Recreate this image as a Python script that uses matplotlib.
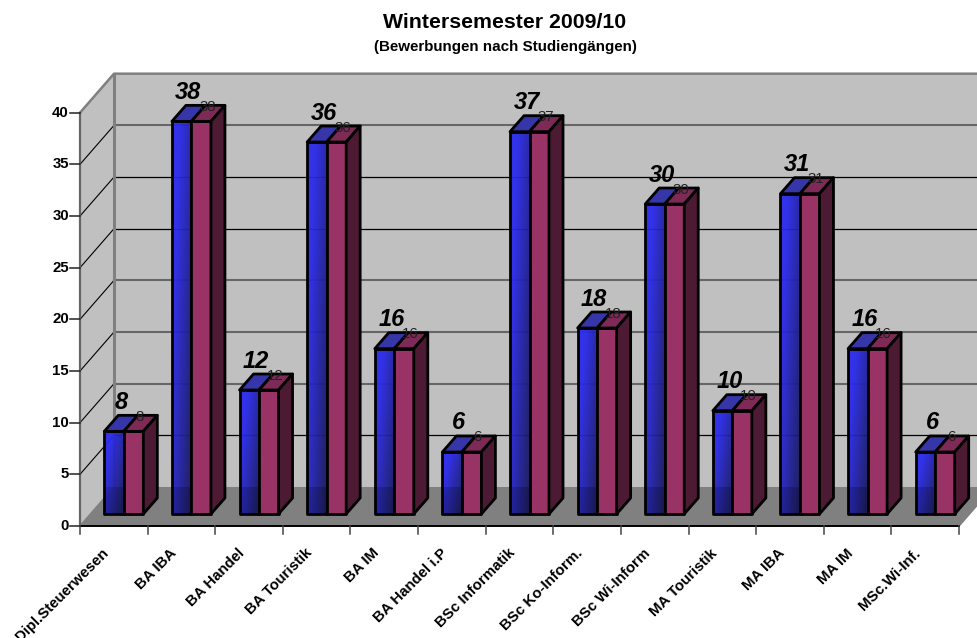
import matplotlib
matplotlib.use("Agg")
import matplotlib.pyplot as plt
from matplotlib.patches import Polygon
import numpy as np

# values
categories = ["Dipl.Steuerwesen", "BA IBA", "BA Handel", "BA Touristik", "BA IM", "BA Handel i.P",
              "BSc Informatik", "BSc Ko-Inform.", "BSc Wi-Inform", "MA Touristik", "MA IBA", "MA IM",
              "MSc.Wi-Inf."]
series_blue = [8, 38, 12, 36, 16, 6, 37, 18, 30, 10, 31, 16, 6]
series_red = [8, 38, 12, 36, 16, 6, 37, 18, 30, 10, 31, 16, 6]
y_ticks = [0, 5, 10, 15, 20, 25, 30, 35, 40]
grid_colors = ["#000000", "#666666", "#666666", "#666666", "#000000", "#000000", "#666666"]

plt.rcParams['font.family'] = ['Liberation Sans', 'DejaVu Sans']

W, H = 978, 638
fig = plt.figure(figsize=(W / 100, H / 100), dpi=100)
# front plane of the fake 3d box: x 80..959 px, y 526..112.7 px
ax = fig.add_axes([80 / W, 1 - 526 / H, 879 / W, 413.3 / H])
ax.axis("off")

n = len(categories)
PX, PY = 67.6, 10.33                  # pixels per data unit
DX, DY = 34 / PX, 39 / PY             # depth of the box
bar_w = 19.5 / PX                     # width of one bar
bar_dx, bar_dy = 14 / PX, 16 / PY     # depth of one bar
off_x, off_y = 10 / PX, 12 / PY       # bars stand a bit inside the box
ymax = y_ticks[-1]


def poly(pts, fc, ec="none", lw=0, alpha=None):
    ax.add_patch(Polygon(pts, closed=True, facecolor=fc, edgecolor=ec, linewidth=lw, zorder=2,
                         clip_on=False, joinstyle="round", alpha=alpha))


# walls and floor
poly([(DX, DY), (n + DX, DY), (n + DX, ymax + DY), (DX, ymax + DY)], "#c0c0c0")
poly([(0, 0), (DX, DY), (DX, ymax + DY), (0, ymax)], "#c0c0c0")
poly([(0, 0), (n, 0), (n + DX, DY), (DX, DY)], "#808080")

# gridlines on side wall and back wall
for t, c in zip(y_ticks[1:-1], grid_colors):
    ax.plot([0, DX], [t, t + DY], color="black", lw=0.8, zorder=2, clip_on=False)
    ax.plot([DX, n + DX], [t + DY, t + DY], color=c, lw=0.9 if c == "#000000" else 1.5, zorder=2, clip_on=False)
# wall frame
ax.plot([0, DX, n + DX], [ymax, ymax + DY, ymax + DY], color="#808080", lw=1.8, zorder=2, clip_on=False)
ax.plot([DX, DX], [DY, ymax + DY], color="#808080", lw=2.2, zorder=2, clip_on=False)
ax.plot([0, DX], [0, DY], color="#808080", lw=1.2, zorder=2, clip_on=False)
ax.plot([n, n + DX], [0, DY], color="#808080", lw=1.2, zorder=2, clip_on=False)

# axes lines and ticks
ax.plot([0, 0], [0, ymax], color="#666666", lw=1.6, zorder=2, clip_on=False)
ax.plot([0, n], [0, 0], color="black", lw=1.4, zorder=2, clip_on=False)
for t in y_ticks:
    ax.plot([-10 / PX, 0], [t, t], color="#222222", lw=1.1, zorder=2, clip_on=False)
    ax.text(-11 / PX, t, str(t), ha="right", va="center", fontsize=10.8, fontweight="bold")
for i in range(n + 1):
    ax.plot([i, i], [0, -8 / PY], color="#444444", lw=1.1, zorder=2, clip_on=False)

# blue gradient: bright in the top left, dark in the bottom right, a bit see through
gy, gx = np.mgrid[0:1:60j, 0:1:30j]
shade = np.clip(gx * 0.75 + gy * 0.55 - 0.3, 0, 1)
grad = np.zeros((60, 30, 4))
grad[..., 0] = (42 - 18 * shade) / 255
grad[..., 1] = (42 - 18 * shade) / 255
grad[..., 2] = (236 - 150 * shade) / 255
grad[..., 3] = 0.95

for i in range(n):
    x0 = i + 0.5 - bar_w + off_x
    x1 = x0 + bar_w
    x2 = x1 + bar_w
    vb = series_blue[i]
    vr = series_red[i]
    b0 = off_y
    # blue series
    ax.imshow(grad, extent=[x0, x1, b0 + vb, b0], aspect="auto", interpolation="bilinear", zorder=2,
              clip_on=False, origin="lower")
    # floor shows through the blue bar
    poly([(x0, b0), (x1, b0), (x1, DY), (x0, DY)], "black", alpha=0.15)
    poly([(x0, b0), (x1, b0), (x1, b0 + vb), (x0, b0 + vb)], "none", "black", 2)
    poly([(x0, b0 + vb), (x1, b0 + vb), (x1 + bar_dx, b0 + vb + bar_dy), (x0 + bar_dx, b0 + vb + bar_dy)],
         "#3636a8", "black", 2)
    # red series
    poly([(x1, b0), (x2, b0), (x2, b0 + vr), (x1, b0 + vr)], "#993366", "black", 2)
    poly([(x1, b0 + vr), (x2, b0 + vr), (x2 + bar_dx, b0 + vr + bar_dy), (x1 + bar_dx, b0 + vr + bar_dy)],
         "#7d2a56", "black", 2)
    poly([(x2, b0), (x2 + bar_dx, b0 + bar_dy), (x2 + bar_dx, b0 + vr + bar_dy), (x2, b0 + vr)],
         "#4d1a33", "black", 2)

for i in range(n):
    xc = i + 0.5 + off_x
    ax.text(xc - 3 / PX, off_y + series_blue[i] + 29 / PY, str(series_blue[i]), ha="center", va="center",
            fontsize=17, fontweight="bold", fontstyle="italic", color="black", zorder=3)
    ax.text(xc + 16 / PX, off_y + series_red[i] + bar_dy - 1.5 / PY, str(series_red[i]), ha="center", va="center",
            fontsize=10.8, color="#222222", zorder=3)
    # the first label runs off the bottom edge, same as in the original picture
    ax.text(xc - 22 / PX, -20 / PY, categories[i], ha="right", va="top", rotation=45,
            rotation_mode="anchor", fontsize=10.8, fontweight="bold", clip_on=False)

ax.set_xlim(0, n)
ax.set_ylim(0, ymax)

fig.text(505 / W, 1 - 22 / H, "Wintersemester 2009/10", ha="center", va="center", fontsize=15.3, fontweight="bold")
fig.text(505 / W, 1 - 47 / H, "(Bewerbungen nach Studiengängen)", ha="center", va="center", fontsize=10.9,
         fontweight="bold")

fig.savefig("out.png", dpi=100)
